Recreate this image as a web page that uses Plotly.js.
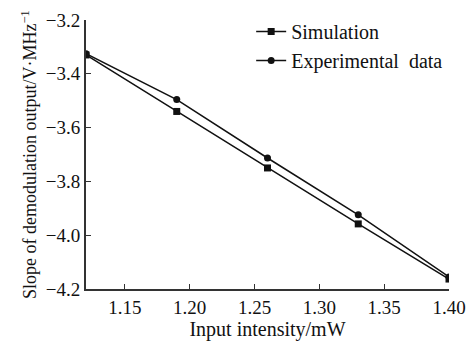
<!DOCTYPE html>
<html><head><meta charset="utf-8">
<script src="https://cdn.plot.ly/plotly-3.0.1.min.js"></script>
<style>body{margin:0;background:#fff}#c{width:473px;height:344px}</style>
</head><body><div id="c"></div>
<script>
const inputIntensity = [1.12, 1.19, 1.26, 1.33, 1.40];
const simulation = [-3.33, -3.54, -3.75, -3.958, -4.163];
const experimental = [-3.325, -3.496, -3.713, -3.924, -4.155];
const xTicks = [1.15, 1.20, 1.25, 1.30, 1.35, 1.40];
const yTicks = [-3.2, -3.4, -3.6, -3.8, -4.0, -4.2];
const fnt = {family: 'Liberation Serif, Times New Roman, serif', color: '#111'};
const traces = [
  {x: inputIntensity, y: simulation, name: 'Simulation', mode: 'lines+markers',
   line: {color: '#111', width: 1.5}, marker: {symbol: 'square', size: 7, color: '#111'}},
  {x: inputIntensity, y: experimental, name: 'Experimental  data', mode: 'lines+markers',
   line: {color: '#111', width: 1.5}, marker: {symbol: 'circle', size: 7, color: '#111'}}
];
const layout = {
  width: 473, height: 344,
  margin: {l: 86, r: 24, t: 20, b: 55},
  paper_bgcolor: '#fff', plot_bgcolor: '#fff',
  font: Object.assign({size: 19}, fnt),
  showlegend: true,
  legend: {x: 0.455, y: 1.03, xanchor: 'left', yanchor: 'top', bgcolor: 'rgba(0,0,0,0)',
           font: Object.assign({size: 20}, fnt), tracegroupgap: 0, itemwidth: 30},
  xaxis: {range: [1.12, 1.40], tickvals: xTicks, ticktext: xTicks.map(v => v.toFixed(2)),
          ticks: 'inside', ticklen: 5, tickcolor: '#333', showline: true, linecolor: '#333', linewidth: 2,
          showgrid: false, zeroline: false, tickfont: Object.assign({size: 19}, fnt),
          title: {text: 'Input intensity/mW', font: Object.assign({size: 20}, fnt), standoff: 4}},
  yaxis: {range: [-4.2, -3.2], tickvals: yTicks, ticktext: yTicks.map(v => '\u2212' + Math.abs(v).toFixed(1)),
          ticks: 'inside', ticklen: 5, tickcolor: '#333', showline: true, linecolor: '#333', linewidth: 2,
          showgrid: false, zeroline: false, tickfont: Object.assign({size: 19}, fnt),
          title: {text: 'Slope of demodulation output/V\u00b7MHz<sup>\u22121</sup>', font: Object.assign({size: 18}, fnt), standoff: 4}}
};
Plotly.newPlot('c', traces, layout, {displayModeBar: false, staticPlot: true});
</script></body></html>
